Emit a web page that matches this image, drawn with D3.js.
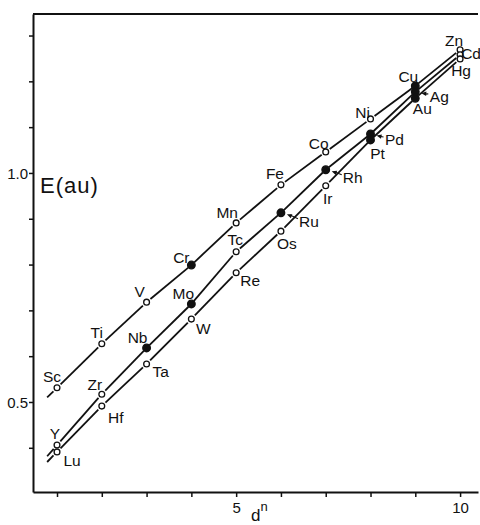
<!DOCTYPE html>
<html><head><meta charset="utf-8">
<script src="https://cdn.jsdelivr.net/npm/d3@7"></script>
<style>
html,body{margin:0;padding:0;background:#fff;}
svg{display:block;font-family:"Liberation Sans",Arial,sans-serif;}
</style></head>
<body><svg id="c" width="480" height="525"></svg>
<script>
// ---- data ----
const dn = [1,2,3,4,5,6,7,8,9,10];
const elements3d = ["Sc","Ti","V","Cr","Mn","Fe","Co","Ni","Cu","Zn"];
const elements4d = ["Y","Zr","Nb","Mo","Tc","Ru","Rh","Pd","Ag","Cd"];
const elements5d = ["Lu","Hf","Ta","W","Re","Os","Ir","Pt","Au","Hg"];
const energy3d = [0.531,0.627,0.718,0.799,0.891,0.974,1.046,1.118,1.190,1.269];
const energy4d = [0.406,0.517,0.618,0.714,0.828,0.913,1.007,1.085,1.177,1.258];
const energy5d = [0.391,0.491,0.583,0.681,0.782,0.873,0.972,1.072,1.163,1.249];
const filledElements = ["Cr","Nb","Mo","Ru","Rh","Pd","Ag","Cu","Pt","Au"];
const arrowElements = ["Ru","Rh","Pd","Ag"];
const xTickValues = [1,2,3,4,5,6,7,8,9,10];
const xTickLabels = ["","","","","5","","","","","10"];
const yTickValues = [0.4,0.5,0.6,0.7,0.8,0.9,1.0,1.1,1.2,1.3];
const yTickLabels = ["","0.5","","","","","1.0","","",""];

// label placement (pixel offsets from the point)
const labelOffsets = {
  Sc:[-5,-11],Ti:[-5,-11],V:[-7,-11],Cr:[-10,-7],Mn:[-9,-10],Fe:[-6,-11],Co:[-7,-8],Ni:[-8,-6],Cu:[-7,-9],Zn:[-6,-9],
  Y:[-2,-11],Zr:[-7,-10],Nb:[-9,-10],Mo:[-8,-10],Tc:[-1,-12],Ru:[28,9],Rh:[27,8],Pd:[24,6],Ag:[24,5],Cd:[11,-1],
  Lu:[15,9],Hf:[14,11],Ta:[14,8],W:[12,9],Re:[14,8],Os:[6,12],Ir:[2,13],Pt:[7,14],Au:[7,10],Hg:[1,12]
};

const svg = d3.select("#c");
const x = d3.scaleLinear().domain([0.464,10.40]).range([33,478]);
const y = d3.scaleLinear().domain([0.3035,1.347]).range([492,14]);
const ink = "#111";

// axes
const gx = svg.append("g").attr("transform","translate(0,492)")
  .call(d3.axisBottom(x).tickValues(xTickValues).tickFormat((d,i)=>xTickLabels[i]).tickSize(5).tickSizeOuter(0));
const gy = svg.append("g").attr("transform","translate(33,0)")
  .call(d3.axisLeft(y).tickValues(yTickValues).tickFormat((d,i)=>yTickLabels[i]).tickSize(4).tickSizeOuter(0));
[gx,gy].forEach(g=>{
  g.select(".domain").attr("stroke",ink).attr("stroke-width",2);
  g.selectAll(".tick line").attr("stroke",ink).attr("stroke-width",1.5);
  g.selectAll(".tick text").attr("fill",ink).attr("font-size",15).attr("font-family","Liberation Sans, Arial, sans-serif");
});
gx.selectAll(".tick text").attr("dy",null).attr("y",21);
gy.selectAll(".tick text").attr("x",-5).attr("dy","0.35em");
// top frame line
svg.append("line").attr("x1",33).attr("x2",478).attr("y1",14).attr("y2",14).attr("stroke",ink).attr("stroke-width",2);

// axis titles
svg.append("text").attr("x",40).attr("y",193).attr("font-size",22).attr("letter-spacing",1).attr("fill",ink).text("E(au)");
const dt = svg.append("text").attr("x",251).attr("y",521).attr("fill",ink).attr("font-size",17);
dt.append("tspan").text("d");
dt.append("tspan").attr("font-size",13).attr("dy",-10).text("n");

// series
const series = [
  {names:elements3d, vals:energy3d},
  {names:elements4d, vals:energy4d},
  {names:elements5d, vals:energy5d}
];

const lineG = svg.append("g").attr("stroke",ink).attr("stroke-width",1.8).attr("fill","none");
series.forEach(s=>{
  const pts = dn.map((d,i)=>({px:x(d),py:y(s.vals[i]),name:s.names[i],filled:filledElements.includes(s.names[i])}));
  // leading extension
  const p0=pts[0], p1=pts[1];
  const sl=(p1.py-p0.py)/(p1.px-p0.px);
  const ex = x(dn[0]-0.22);
  const segs=[];
  segs.push([{px:ex,py:p0.py+sl*(ex-p0.px)},p0,0,p0.filled?4:5]);
  for(let i=0;i<pts.length-1;i++) segs.push([pts[i],pts[i+1],pts[i].filled?4:5,pts[i+1].filled?4:5]);
  segs.forEach(([a,b,ga,gb])=>{
    const dx=b.px-a.px, dy=b.py-a.py, L=Math.hypot(dx,dy);
    if(L<ga+gb+1) return;
    lineG.append("line")
      .attr("x1",a.px+dx/L*ga).attr("y1",a.py+dy/L*ga)
      .attr("x2",b.px-dx/L*gb).attr("y2",b.py-dy/L*gb);
  });
  s.pts=pts;
});

// markers and labels
const markG = svg.append("g");
const labG = svg.append("g").attr("font-size",15.5).attr("fill",ink).attr("text-anchor","middle");
series.forEach(s=>{
  s.pts.forEach(p=>{
    markG.append("circle").attr("cx",p.px).attr("cy",p.py)
      .attr("r",p.filled?3.8:2.9)
      .attr("fill",p.filled?ink:"#fff").attr("stroke",ink).attr("stroke-width",1.3);
    const o=labelOffsets[p.name];
    labG.append("text").attr("x",p.px+o[0]).attr("y",p.py+o[1]).attr("dy","0.35em").text(p.name);
    if(arrowElements.includes(p.name)){
      const x2=p.px+6, y2=p.py+1.5, x1=p.px+o[0]-11, y1=p.py+o[1]-3;
      svg.append("line").attr("x1",x1).attr("y1",y1).attr("x2",x2+3).attr("y2",y2+0.8).attr("stroke",ink).attr("stroke-width",1.1);
      const ang=Math.atan2(y2-y1,x2-x1);
      const hl=5, hw=2.2;
      const bx=x2-Math.cos(ang)*hl, by=y2-Math.sin(ang)*hl;
      svg.append("path").attr("fill",ink)
        .attr("d",`M${x2},${y2}L${bx-Math.sin(ang)*hw},${by+Math.cos(ang)*hw}L${bx+Math.sin(ang)*hw},${by-Math.cos(ang)*hw}Z`);
    }
  });
});
</script></body></html>
